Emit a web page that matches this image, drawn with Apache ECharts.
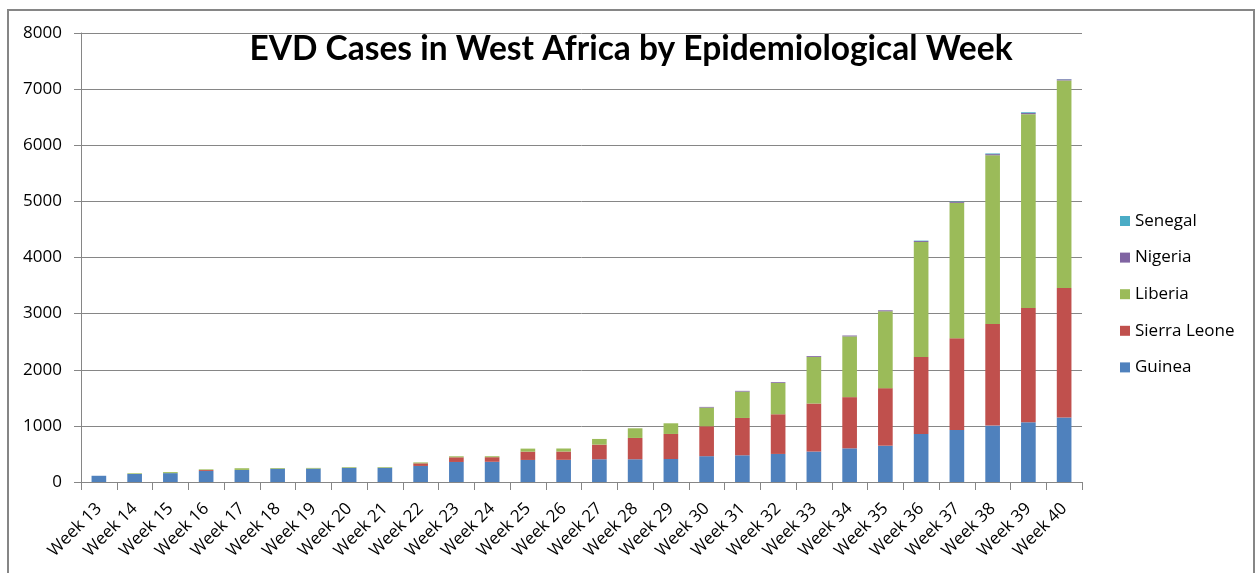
<!DOCTYPE html>
<html>
<head>
<meta charset="utf-8">
<script src="https://cdn.jsdelivr.net/npm/echarts@6/dist/echarts.min.js"></script>
<style>
html,body{margin:0;padding:0;background:#fff;}
#c{width:1256px;height:573px;}
</style>
</head>
<body>
<div id="c"></div>
<script>
var weeks = ['Week 13','Week 14','Week 15','Week 16','Week 17','Week 18','Week 19','Week 20','Week 21','Week 22','Week 23','Week 24','Week 25','Week 26','Week 27','Week 28','Week 29','Week 30','Week 31','Week 32','Week 33','Week 34','Week 35','Week 36','Week 37','Week 38','Week 39','Week 40'];
var guinea = [111,143,158,197,215,237,239,252,253,286,357,360,393,395,405,405,410,460,476,500,543,600,647,856,927,1005,1064,1148];
var sierraLeone = [0,0,0,16,0,0,0,0,0,47,83,82,148,148,261,380,446,533,665,707,855,912,1025,1370,1635,1811,2038,2310];
var liberia = [0,12,18,12,30,13,12,12,12,16,18,17,54,54,101,172,190,333,470,558,831,1082,1370,2050,2412,3006,3452,3697];
var nigeria = [0,0,0,0,0,0,0,0,0,0,0,0,0,0,0,0,0,12,13,14,15,16,17,17,17,20,20,20];
var senegal = [0,0,0,0,0,0,0,0,0,0,0,0,0,0,0,0,0,0,0,0,0,0,0,8,6,12,14,4];
var yTicks = [0,1000,2000,3000,4000,5000,6000,7000,8000];
var titleText = 'EVD Cases in West Africa by Epidemiological Week';

var FONT = 'Open Sans';
var chart = echarts.init(document.getElementById('c'), null, {renderer:'canvas'});
function mk(name, data, color){
  return {name:name, type:'bar', stack:'total', data:data, barWidth:'41%',
    itemStyle:{color:color}, emphasis:{disabled:true}};
}
chart.setOption({
  animation:false,
  backgroundColor:'#ffffff',
  title:{text:titleText, left:626, top:27, textAlign:'center',
    textStyle:{fontFamily:'Lato', fontWeight:'bold', fontSize:33.5, color:'#000'}},
  graphic:[{type:'rect', shape:{x:8, y:10, width:1246, height:600},
    style:{fill:'none', stroke:'#868686', lineWidth:2}, silent:true}],
  legend:{orient:'vertical', left:1115, top:206, itemWidth:10, itemHeight:10, itemGap:16.6,
    icon:'rect', data:['Senegal','Nigeria','Liberia','Sierra Leone','Guinea'],
    textStyle:{fontFamily:FONT, fontSize:17, color:'#000', lineHeight:20}},
  grid:{left:81, right:174, top:33, bottom:91, containLabel:false},
  xAxis:{type:'category', data:weeks, boundaryGap:true,
    axisLine:{lineStyle:{color:'#868686', width:1}},
    axisTick:{show:true, length:8, lineStyle:{color:'#868686'}},
    axisLabel:{rotate:45, interval:0, margin:24, fontFamily:FONT, fontSize:17, color:'#000'}},
  yAxis:{type:'value', min:0, max:8000, interval:1000,
    axisLine:{show:true, lineStyle:{color:'#868686', width:1}},
    axisTick:{show:true, length:7, lineStyle:{color:'#868686'}},
    splitLine:{lineStyle:{color:'#868686', width:1}},
    axisLabel:{margin:19, fontFamily:FONT, fontSize:17, color:'#000',
      formatter:function(v){return yTicks.indexOf(v)>=0 ? String(v) : '';}}},
  series:[
    mk('Guinea', guinea, '#4F81BD'),
    mk('Sierra Leone', sierraLeone, '#C0504D'),
    mk('Liberia', liberia, '#9BBB59'),
    mk('Nigeria', nigeria, '#8064A2'),
    mk('Senegal', senegal, '#4BACC6')
  ]
});
</script>
</body>
</html>
